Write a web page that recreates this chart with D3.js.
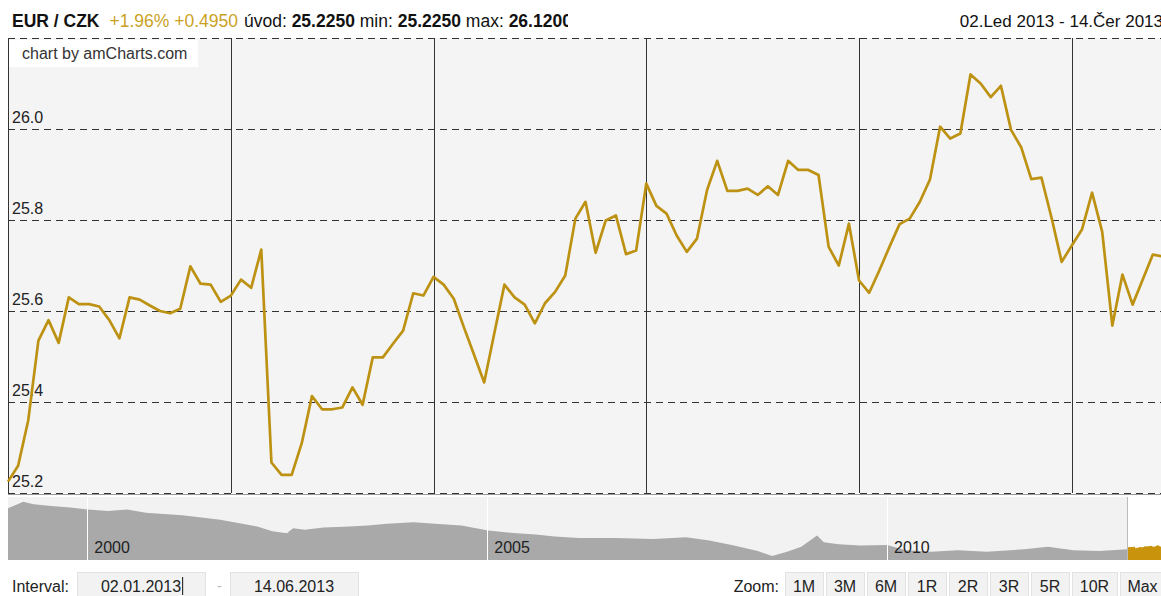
<!DOCTYPE html>
<html>
<head>
<meta charset="utf-8">
<script src="https://cdn.jsdelivr.net/npm/d3@7"></script>
<style>
  body { margin: 0; background: #fff; overflow: hidden; }
  svg { display: block; font-family: "Liberation Sans", Arial, Helvetica, sans-serif; }
</style>
</head>
<body>
<svg id="chart" width="1161" height="596"></svg>
<script>
// CNB fixing days, 2013 (weekends and Czech holidays left out)
const tradingDays = {
  "2013-01": [2,3,4,7,8,9,10,11,14,15,16,17,18,21,22,23,24,25,28,29,30,31],
  "2013-02": [1,4,5,6,7,8,11,12,13,14,15,18,19,20,21,22,25,26,27,28],
  "2013-03": [1,4,5,6,7,8,11,12,13,14,15,18,19,20,21,22,25,26,27,28,29],
  "2013-04": [2,3,4,5,8,9,10,11,12,15,16,17,18,19,22,23,24,25,26,29,30],
  "2013-05": [2,3,6,7,9,10,13,14,15,16,17,20,21,22,23,24,27,28,29,30,31],
  "2013-06": [3,4,5,6,7,10,11,12,13,14]
};

// EUR/CZK daily fixing, 02.01.2013 - 14.06.2013
const rates = [
  25.225, 25.26, 25.36, 25.535, 25.58, 25.53, 25.63, 25.615, 25.615, 25.61, 25.58,
  25.54, 25.63, 25.625, 25.612, 25.60, 25.595, 25.605, 25.698, 25.66, 25.658, 25.62,
  25.634, 25.669, 25.651, 25.735, 25.267, 25.24, 25.24, 25.31, 25.413, 25.384,
  25.384, 25.388, 25.432, 25.394, 25.498, 25.498, 25.528, 25.557, 25.639, 25.634,
  25.675, 25.658, 25.627, 25.564, 25.504, 25.443, 25.551, 25.658, 25.63, 25.614, 25.573,
  25.617, 25.642, 25.678, 25.803, 25.84, 25.728, 25.799, 25.81, 25.725, 25.733,
  25.88, 25.831, 25.814, 25.766, 25.73, 25.759, 25.866, 25.93, 25.864, 25.864, 25.869,
  25.855, 25.874, 25.855, 25.93, 25.91, 25.91, 25.899, 25.741, 25.70, 25.792,
  25.667, 25.64, 25.689, 25.741, 25.791, 25.803, 25.84, 25.889, 26.005, 25.979, 25.99,
  26.12, 26.10, 26.07, 26.095, 25.998, 25.96, 25.89, 25.893, 25.805, 25.708,
  25.744, 25.779, 25.86, 25.774, 25.568, 25.68, 25.614, 25.669, 25.724, 25.72
];

// value axis ticks
const yTicks = [25.2, 25.4, 25.6, 25.8, 26.0, 26.2];
const yLabels = ["25.2", "25.4", "25.6", "25.8", "26.0", ""];

// long-run history shown in the navigator (1999 - 2012)
const navDates = [
  "1999-01-04","1999-03-15","1999-05-01","1999-07-20","1999-10-15","2000-01-03",
  "2000-04-05","2000-07-01","2000-09-25","2001-01-02","2001-03-10","2001-06-05",
  "2001-08-30","2001-11-20","2002-02-15","2002-04-25","2002-07-01","2002-07-20",
  "2002-07-30","2002-09-20","2002-12-15","2003-04-15","2003-07-05","2003-10-01",
  "2004-01-30","2004-05-08","2004-09-05","2005-01-05","2005-05-15","2005-08-10",
  "2005-11-05","2006-02-25","2006-08-10","2007-01-30","2007-06-28","2007-10-12",
  "2008-02-02","2008-05-20","2008-07-25","2008-10-01","2008-12-05","2009-02-15",
  "2009-03-18","2009-05-25","2009-09-01","2010-01-01","2010-03-28","2010-07-22",
  "2010-11-20","2011-04-01","2011-09-20","2012-01-05","2012-05-01","2012-08-28",
  "2013-01-02"
];
const navValues = [
  36.4, 38.2, 37.5, 37.0, 36.6, 36.0,
  35.6, 36.0, 35.1, 34.7, 34.4, 33.8,
  33.2, 32.3, 31.3, 30.0, 29.4, 30.4,
  30.8, 30.4, 31.0, 31.3, 31.6, 32.1,
  32.5, 32.1, 31.6, 30.2, 29.4, 29.1,
  28.5, 28.1, 28.1, 27.8, 28.3, 27.4,
  26.0, 24.5, 23.1, 24.3, 25.7, 28.8,
  26.9, 26.4, 26.0, 26.2, 24.7, 24.3,
  24.7, 24.3, 25.0, 25.7, 24.7, 24.5,
  25.0
];

const zoomButtons = ["1M", "3M", "6M", "1R", "2R", "3R", "5R", "10R", "Max"];
const czMonths = ["Led","Úno","Bře","Dub","Kvě","Čer","Čvc","Srp","Zář","Říj","Lis","Pro"];

// ---------------------------------------------------------------
const parse = d3.timeParse("%Y-%m-%d");
const dates = [];
Object.entries(tradingDays).forEach(([ym, days]) =>
  days.forEach(d => dates.push(ym + "-" + String(d).padStart(2, "0"))));
const series = dates.map((d, i) => ({ date: d, t: parse(d), v: rates[i] }));

const svg = d3.select("#chart");
const plot = { left: 8, right: 1163, top: 38, bottom: 493 };

const x = d3.scalePoint().domain(dates).range([plot.left, plot.right]);
const y = d3.scaleLinear().domain([25.2, 26.2]).range([plot.bottom, plot.top]);

// plot background
svg.append("rect")
  .attr("x", plot.left).attr("y", plot.top)
  .attr("width", plot.right - plot.left).attr("height", plot.bottom - plot.top)
  .attr("fill", "#f4f4f4");

// horizontal dashed grid
svg.append("g").selectAll("line").data(yTicks).join("line")
  .attr("x1", plot.left).attr("x2", plot.right)
  .attr("y1", d => Math.round(y(d)) + 0.5).attr("y2", d => Math.round(y(d)) + 0.5)
  .attr("stroke", "#333").attr("stroke-width", 1)
  .attr("stroke-dasharray", "7,5");

// month separators at the first fixing day of each month
const monthStarts = series.filter((d, i) => i > 0 && d.t.getMonth() !== series[i - 1].t.getMonth());
svg.append("g").selectAll("line").data(monthStarts).join("line")
  .attr("x1", d => Math.round(x(d.date)) + 0.5).attr("x2", d => Math.round(x(d.date)) + 0.5)
  .attr("y1", plot.top).attr("y2", plot.bottom)
  .attr("stroke", "#333").attr("stroke-width", 1);

// left axis line and bottom axis line
svg.append("line").attr("x1", plot.left + 0.5).attr("x2", plot.left + 0.5)
  .attr("y1", plot.top).attr("y2", plot.bottom + 1).attr("stroke", "#333");
svg.append("line").attr("x1", plot.left).attr("x2", plot.right)
  .attr("y1", plot.bottom + 1.5).attr("y2", plot.bottom + 1.5).attr("stroke", "#999");

// value labels, inside the plot
svg.append("g").selectAll("text").data(yTicks.map((v, i) => ({ v, l: yLabels[i] }))).join("text")
  .attr("x", 12).attr("y", d => y(d.v) - 6)
  .attr("font-size", 16).attr("fill", "#222")
  .text(d => d.l);

// price line
svg.append("path").datum(series)
  .attr("fill", "none").attr("stroke", "#bd9213").attr("stroke-width", 2.7)
  .attr("stroke-linejoin", "round")
  .attr("d", d3.line().x(d => x(d.date)).y(d => y(d.v)));

// credits box
svg.append("rect").attr("x", 9).attr("y", 40).attr("width", 189).attr("height", 27).attr("fill", "#fff");
svg.append("text").attr("x", 22).attr("y", 59).attr("font-size", 16).attr("fill", "#333")
  .text("chart by amCharts.com");

// ---------------------------------------------------------------
// header legend
const first = rates[0], last = rates[rates.length - 1];
const lo = d3.min(rates), hi = d3.max(rates);
const diff = last - first;
const fmt4 = d3.format(".4f");
svg.append("clipPath").attr("id", "legendClip")
  .append("rect").attr("x", 0).attr("y", 0).attr("width", 568).attr("height", 36);
const legend = svg.append("text").attr("clip-path", "url(#legendClip)")
  .attr("x", 12).attr("y", 27).attr("font-size", 17.5).attr("fill", "#111");
legend.append("tspan").attr("font-weight", "bold").text("EUR / CZK");
legend.append("tspan").attr("dx", 10).attr("fill", "#caa21f")
  .text((diff >= 0 ? "+" : "") + d3.format(".2f")(diff / first * 100) + "% " + (diff >= 0 ? "+" : "") + fmt4(diff));
legend.append("tspan").attr("dx", 6).text("úvod: ");
legend.append("tspan").attr("font-weight", "bold").text(fmt4(first));
legend.append("tspan").text(" min: ");
legend.append("tspan").attr("font-weight", "bold").text(fmt4(lo));
legend.append("tspan").text(" max: ");
legend.append("tspan").attr("font-weight", "bold").text(fmt4(hi));

const t0 = series[0].t, t1 = series[series.length - 1].t;
const fmtPeriod = t => d3.timeFormat("%d")(t) + "." + czMonths[t.getMonth()] + " " + t.getFullYear();
svg.append("text").attr("x", 1163).attr("y", 27).attr("text-anchor", "end")
  .attr("font-size", 17).attr("fill", "#111")
  .text(fmtPeriod(t0) + " - " + fmtPeriod(t1));

// ---------------------------------------------------------------
// navigator
const nav = { top: 497, bottom: 560 };
const navSeries = navDates.map((d, i) => ({ t: parse(d), v: navValues[i] }));
const nx = d3.scaleTime().domain([navSeries[0].t, t1]).range([plot.left, plot.right]);
const ny = d3.scaleLinear().domain([22, 39.5]).range([nav.bottom, nav.top]);

svg.append("rect").attr("x", plot.left).attr("y", nav.top)
  .attr("width", nx(t0) - plot.left).attr("height", nav.bottom - nav.top)
  .attr("fill", "#f2f2f2");

svg.append("path").datum(navSeries)
  .attr("fill", "#a9a9a9")
  .attr("d", d3.area().x(d => nx(d.t)).y0(nav.bottom).y1(d => ny(d.v)));

svg.append("path").datum(series)
  .attr("fill", "#c9930c")
  .attr("d", d3.area().x(d => nx(d.t)).y0(nav.bottom).y1(d => ny(d.v)));

svg.append("line").attr("x1", Math.round(nx(t0)) + 0.5).attr("x2", Math.round(nx(t0)) + 0.5)
  .attr("y1", nav.top).attr("y2", nav.bottom).attr("stroke", "#bbb");

const yearTicks = nx.ticks(d3.timeYear.every(5));
const yg = svg.append("g").selectAll("g").data(yearTicks).join("g");
yg.append("line")
  .attr("x1", d => Math.round(nx(d)) + 0.5).attr("x2", d => Math.round(nx(d)) + 0.5)
  .attr("y1", nav.top).attr("y2", nav.bottom).attr("stroke", "#fff");
yg.append("text")
  .attr("x", d => nx(d) + 7).attr("y", 553)
  .attr("font-size", 16).attr("fill", "#222")
  .text(d => d.getFullYear());

// ---------------------------------------------------------------
// period controls
const fmtInput = d3.timeFormat("%d.%m.%Y");
svg.append("text").attr("x", 12).attr("y", 592).attr("font-size", 16).attr("fill", "#222").text("Interval:");
const inputs = [{ x: 77, w: 128, t: t0, caret: true }, { x: 230, w: 128, t: t1, caret: false }];
inputs.forEach(inp => {
  svg.append("rect").attr("x", inp.x + 0.5).attr("y", 572.5).attr("width", inp.w).attr("height", 30)
    .attr("fill", "#f2f2f2").attr("stroke", "#e2e2e2");
  const tx = svg.append("text").attr("x", inp.x + inp.w / 2).attr("y", 592).attr("text-anchor", "middle")
    .attr("font-size", 16).attr("fill", "#222").text(fmtInput(inp.t));
  if (inp.caret) {
    const bb = tx.node().getBBox();
    svg.append("line").attr("x1", bb.x + bb.width + 1.5).attr("x2", bb.x + bb.width + 1.5)
      .attr("y1", 577).attr("y2", 595).attr("stroke", "#111");
  }
});
svg.append("text").attr("x", 217).attr("y", 591).attr("font-size", 14).attr("fill", "#bbb").text("-");

svg.append("text").attr("x", 779).attr("y", 592).attr("text-anchor", "end")
  .attr("font-size", 16).attr("fill", "#222").text("Zoom:");
let bx = 785;
zoomButtons.forEach(b => {
  const w = b.length === 2 ? 38 : 45;
  svg.append("rect").attr("x", bx + 0.5).attr("y", 572.5).attr("width", w).attr("height", 30)
    .attr("fill", "#f2f2f2").attr("stroke", "#e2e2e2");
  svg.append("text").attr("x", bx + w / 2).attr("y", 592).attr("text-anchor", "middle")
    .attr("font-size", 16).attr("fill", "#222").text(b);
  bx += w + 3;
});
</script>
</body>
</html>
